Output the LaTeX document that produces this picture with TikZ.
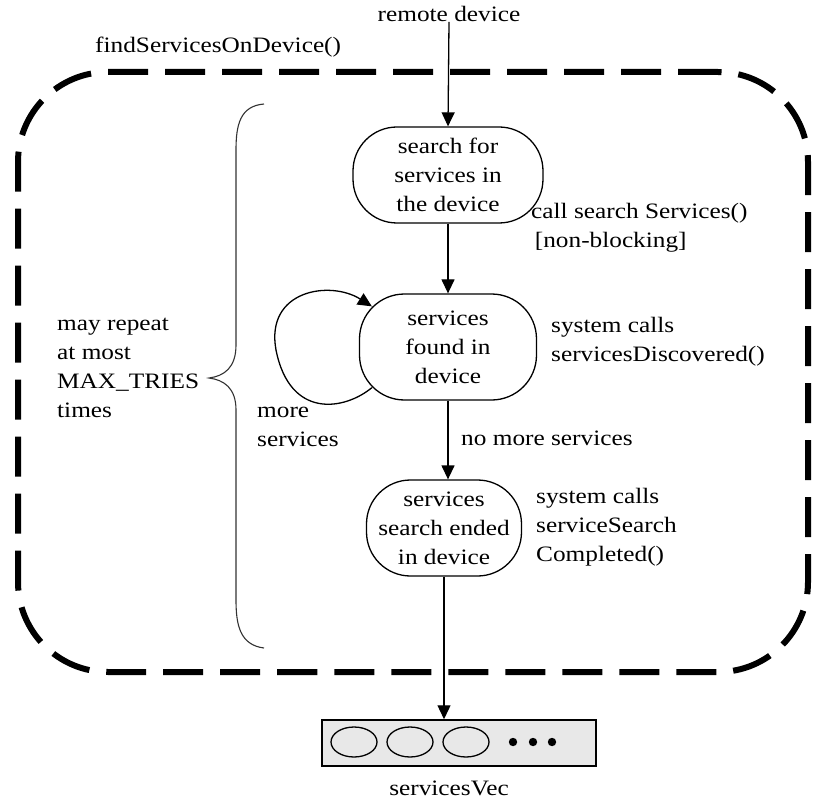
\documentclass[tikz,border=0pt]{standalone}
\usepackage{fontspec}
\setmainfont{Liberation Serif}[FakeStretch=1.15]
\usetikzlibrary{arrows.meta,shapes.geometric}
\begin{document}
\begin{tikzpicture}[x=1pt,y=-1pt,
  every node/.style={font=\fontsize{22}{29}\selectfont, inner sep=0pt},
  state/.style={draw, line width=1.3pt, rounded corners=44pt, align=center},
  lbl/.style={align=left, anchor=west},
  arr/.style={line width=1.3pt, -{Triangle[length=14pt,width=13pt]}},
  framebox/.style={draw, line width=6pt, dash pattern=on 40pt off 17pt, rounded corners=90pt},
  bracestyle/.style={line width=1.1pt, draw=black!80},
  cell/.style={draw, line width=1.3pt, ellipse, minimum width=46pt, minimum height=30pt}
]
\useasboundingbox (0,0) rectangle (818,799);

% outer dashed frame
\node[framebox, minimum width=790pt, minimum height=600pt] (frame) at (413,372) {};

% texts
\node (rd) at (449,14) {remote device};
\node[anchor=west] (fsod) at (95,47) {findServicesOnDevice()};

% states
\node[state, minimum width=190pt, minimum height=96pt] (n1) at (448,175)
  {search for\\services in\\the device};
\node[state, minimum width=177pt, minimum height=106pt, rounded corners=45pt] (n2) at (448,347)
  {services\\found in\\device};
\node[state, minimum width=155pt, minimum height=96pt] (n3) at (444,528)
  {services\\search ended\\in device};

% labels
\node[lbl] (l1) at (531,228) {call search Services()\\\,[non-blocking]};
\node[lbl] (l2) at (551,342) {system calls\\servicesDiscovered()};
\node[lbl] (l3) at (461,438) {no more services};
\node[lbl] (l4) at (536,527) {system calls\\serviceSearch\\Completed()};
\node[lbl] (l5) at (257,427) {more\\services};
\node[lbl] (l6) at (57,368) {may repeat\\at most\\MAX\_TRIES\\times};

% vector
\node[draw, line width=1.5pt, fill=black!9, minimum width=274pt, minimum height=46pt] (vec) at (459,743) {};
\node[cell] (c1) at (354,742) {};
\node[cell] (c2) at (410,742) {};
\node[cell] (c3) at (466,742) {};
\fill (513,742) circle (4.2pt) (533,742) circle (4.2pt) (552,742) circle (4.2pt);
\node (vlabel) at (449,788) {servicesVec};

% connectors
\draw[arr] (rd.south) -- (n1.north);
\draw[arr] (n1.south) -- (n2.north);
\draw[arr] (n2.south) -- (n2.south |- n3.north);
\draw[arr] (n3.south) -- (n3.south |- vec.north);
\draw[arr] ([shift={(13,-13)}]n2.south west) .. controls (345,410) and (290,420) .. (276,350)
   .. controls (265,290) and (330,280) .. ([shift={(13,13)}]n2.north west);

% brace
\draw[bracestyle] (264,104) .. controls (240,106) and (236,125) .. (236,150) -- (236,345)
  .. controls (236,368) and (224,376) .. (209,378) .. controls (224,380) and (236,388) .. (236,410)
  -- (236,600) .. controls (236,625) and (240,645) .. (264,648);
\end{tikzpicture}
\end{document}
